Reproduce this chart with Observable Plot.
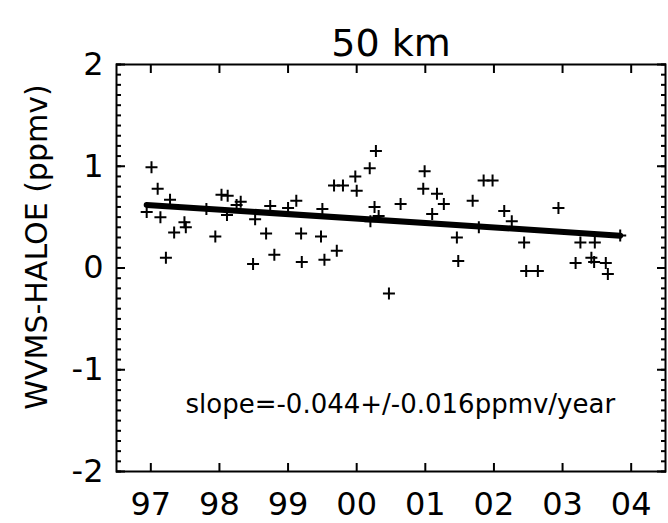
<!DOCTYPE html>
<html><head><meta charset="utf-8">
<script src="https://cdn.jsdelivr.net/npm/d3@7"></script>
<script src="https://cdn.jsdelivr.net/npm/@observablehq/plot@0.6"></script>
<style>html,body{margin:0;padding:0;background:#fff}</style>
</head><body><div id="chart"></div>
<script>
const years = [1996.94, 1997.01, 1997.10, 1997.14, 1997.22, 1997.28, 1997.34, 1997.49, 1997.51, 1997.81,
  1997.94, 1998.03, 1998.12, 1998.11, 1998.25, 1998.31, 1998.49, 1998.52, 1998.68, 1998.74,
  1998.80, 1999.00, 1999.12, 1999.19, 1999.20, 1999.50, 1999.48, 1999.53, 1999.71, 1999.67,
  1999.80, 1999.98, 2000.00, 2000.19, 2000.28, 2000.26, 2000.20, 2000.32, 2000.47, 2000.64,
  2000.99, 2000.97, 2001.17, 2001.27, 2001.10, 2001.46, 2001.48, 2001.69, 2001.78, 2001.85,
  2001.98, 2002.15, 2002.26, 2002.44, 2002.47, 2002.64, 2002.94, 2003.19, 2003.26, 2003.47,
  2003.42, 2003.46, 2003.63, 2003.66, 2003.84];
const values = [0.55, 0.99, 0.78, 0.50, 0.10, 0.67, 0.35, 0.45, 0.40, 0.58,
  0.31, 0.72, 0.71, 0.52, 0.62, 0.65, 0.04, 0.48, 0.34, 0.61,
  0.13, 0.59, 0.66, 0.34, 0.06, 0.58, 0.31, 0.08, 0.17, 0.81,
  0.81, 0.90, 0.76, 0.98, 1.15, 0.60, 0.46, 0.51, -0.25, 0.63,
  0.95, 0.78, 0.73, 0.63, 0.53, 0.30, 0.07, 0.66, 0.40, 0.86,
  0.86, 0.56, 0.46, 0.25, -0.03, -0.03, 0.59, 0.05, 0.25, 0.25,
  0.10, 0.06, 0.05, -0.06, 0.32];
const fitYears = [1996.94, 2003.84];
const fitValues = [0.62, 0.318];
const xTickYears = [1997, 1998, 1999, 2000, 2001, 2002, 2003, 2004];
const xTickLabels = ["97", "98", "99", "00", "01", "02", "03", "04"];
const yTicks = [-2, -1, 0, 1, 2];
const yTickLabels = ["-2", "-1", "0", "1", "2"];
const yMinorTicks = d3.range(-20, 21).map(i => i / 10);
const titleText = "50 km";
const yLabelText = "WVMS-HALOE (ppmv)";
const slopeText = "slope=-0.044+/-0.016ppmv/year";

const points = years.map((yr, i) => ({year: yr, value: values[i]}));
const fit = fitYears.map((yr, i) => ({year: yr, value: fitValues[i]}));

const plusSymbol = {
  draw(ctx, size) {
    const r = Math.sqrt(size / Math.PI);
    ctx.moveTo(-r, 0); ctx.lineTo(r, 0);
    ctx.moveTo(0, -r); ctx.lineTo(0, r);
  }
};

const chart = Plot.plot({
  width: 668,
  height: 523,
  marginLeft: 116,
  marginRight: 3,
  marginTop: 64,
  marginBottom: 52,
  style: {fontFamily: "DejaVu Sans", color: "black", background: "white"},
  x: {type: "linear", domain: [1996.5, 2004.5]},
  y: {type: "linear", domain: [-2, 2]},
  marks: [
    Plot.frame({stroke: "black", strokeWidth: 2}),
    Plot.dot(points, {x: "year", y: "value", symbol: plusSymbol, r: 6, stroke: "black", strokeWidth: 2, fill: "none"}),
    Plot.line(fit, {x: "year", y: "value", stroke: "black", strokeWidth: 6}),
    Plot.axisY(yMinorTicks, {anchor: "left", tickSize: -5, tickFormat: () => "", label: null, strokeWidth: 2}),
    Plot.axisY(yMinorTicks, {anchor: "right", tickSize: -5, tickFormat: () => "", label: null, strokeWidth: 2}),
    Plot.axisY(yTicks, {anchor: "left", tickSize: -9, tickPadding: 22, fontSize: 32, label: null, strokeWidth: 2,
      tickFormat: d => yTickLabels[yTicks.indexOf(d)]}),
    Plot.axisY(yTicks, {anchor: "right", tickSize: -9, tickFormat: () => "", label: null, strokeWidth: 2}),
    Plot.axisX(xTickYears, {anchor: "bottom", tickSize: -8, tickPadding: 29, fontSize: 32, label: null, strokeWidth: 2,
      tickFormat: d => xTickLabels[xTickYears.indexOf(d)]}),
    Plot.axisX(xTickYears, {anchor: "top", tickSize: -8, tickFormat: () => "", label: null, strokeWidth: 2}),
    Plot.text([titleText], {frameAnchor: "top", dy: -35, fontSize: 38, text: d => d, fill: "black"}),
    Plot.text([yLabelText], {frameAnchor: "left", rotate: -90, textAnchor: "middle", dx: -79, dy: -21, fontSize: 30, text: d => d, fill: "black"}),
    Plot.text([slopeText], {frameAnchor: "bottom-left", dx: 69, dy: -59, textAnchor: "start", fontSize: 26, text: d => d, fill: "black"})
  ]
});
document.getElementById("chart").appendChild(chart);
</script>
</body></html>
